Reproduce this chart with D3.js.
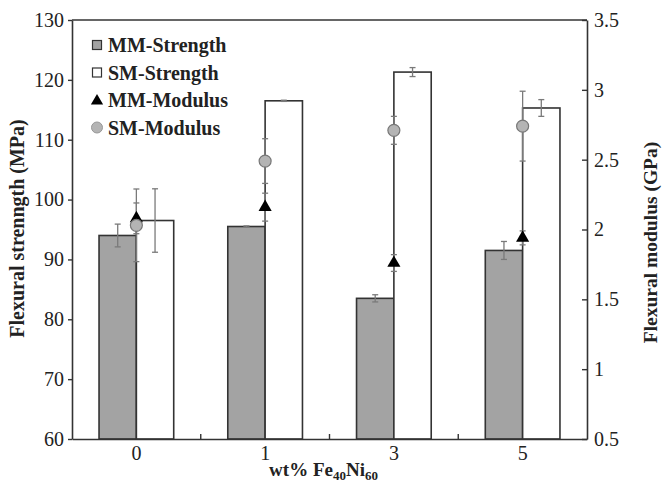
<!DOCTYPE html>
<html>
<head>
<meta charset="utf-8">
<script src="https://cdn.jsdelivr.net/npm/d3@7"></script>
<style>
  body { margin: 0; background: #fff; }
  text { font-family: "Liberation Serif", "Times New Roman", serif; fill: #222; }
</style>
</head>
<body>
<div id="vis"></div>
<script>
// data
var categories = ['0', '1', '3', '5'];
var mmStrength = [94.0, 95.5, 83.5, 91.5];
var mmStrengthErr = [1.9, 0.1, 0.6, 1.5];
var smStrength = [96.5, 116.5, 121.3, 115.3];
var smStrengthErr = [5.3, 0.1, 0.75, 1.4];
var mmModulus = [2.08, 2.16, 1.76, 1.94];
var mmModulusErr = [0.11, 0.1, 0.06, 0.05];
var smModulus = [2.03, 2.49, 2.71, 2.74];
var smModulusErr = [0.26, 0.16, 0.1, 0.25];
var leftTicks = [60, 70, 80, 90, 100, 110, 120, 130];
var rightTicks = [0.5, 1, 1.5, 2, 2.5, 3, 3.5];

var W = 662, H = 484;
var margin = {left: 72, right: 75, top: 20, bottom: 45};
var width = W - margin.left - margin.right;
var height = H - margin.top - margin.bottom;
var axisColor = '#333';

var svg = d3.select('#vis')
    .append('svg')
        .attr('width', W)
        .attr('height', H)
    .append('g')
        .attr('transform', 'translate(' + margin.left + ',' + margin.top + ')');

var x = d3.scaleBand().domain(categories).range([0, width]);
var y = d3.scaleLinear().domain([60, 130]).range([height, 0]);
var y2 = d3.scaleLinear().domain([0.5, 3.5]).range([height, 0]);
var barW = x.bandwidth() * 0.29;
var cx = d => x(d) + x.bandwidth() / 2;

// bars
svg.append('g').selectAll('rect')
    .data(categories)
    .enter()
    .append('rect')
        .attr('x', d => cx(d) - barW)
        .attr('y', (d, i) => y(mmStrength[i]))
        .attr('width', barW)
        .attr('height', (d, i) => height - y(mmStrength[i]))
        .style('fill', '#a3a3a3')
        .style('stroke', axisColor)
        .style('stroke-width', 1.6);

svg.append('g').selectAll('rect')
    .data(categories)
    .enter()
    .append('rect')
        .attr('x', d => cx(d))
        .attr('y', (d, i) => y(smStrength[i]))
        .attr('width', barW)
        .attr('height', (d, i) => height - y(smStrength[i]))
        .style('fill', '#fff')
        .style('stroke', axisColor)
        .style('stroke-width', 1.6);

// error bars
var errColor = '#7a7a7a';
var errBar = (xs, vals, errs, scale) => {
    var g = svg.append('g').style('stroke', errColor).style('stroke-width', 1.3);
    categories.forEach((c, i) => {
        var px = xs(c), lo = scale(vals[i] - errs[i]), hi = scale(vals[i] + errs[i]);
        g.append('line').attr('x1', px).attr('x2', px).attr('y1', lo).attr('y2', hi);
        g.append('line').attr('x1', px - 3).attr('x2', px + 3).attr('y1', lo).attr('y2', lo);
        g.append('line').attr('x1', px - 3).attr('x2', px + 3).attr('y1', hi).attr('y2', hi);
    });
};
errBar(d => cx(d) - barW / 2, mmStrength, mmStrengthErr, y);
errBar(d => cx(d) + barW / 2, smStrength, smStrengthErr, y);
errBar(cx, smModulus, smModulusErr, y2);
errBar(cx, mmModulus, mmModulusErr, y2);

// modulus markers
svg.append('g').selectAll('path')
    .data(categories)
    .enter()
    .append('path')
        .attr('d', d3.symbol().type(d3.symbolTriangle).size(75))
        .attr('transform', (d, i) => 'translate(' + cx(d) + ',' + y2(mmModulus[i]) + ')')
        .style('fill', '#000');

svg.append('g').selectAll('circle')
    .data(categories)
    .enter()
    .append('circle')
        .attr('cx', d => cx(d))
        .attr('cy', (d, i) => y2(smModulus[i]))
        .attr('r', 6)
        .style('fill', '#b4b4b4')
        .style('stroke', '#777')
        .style('stroke-width', 1.2);

// axes
var styleAxis = g => {
    g.selectAll('.domain').style('stroke', axisColor).style('stroke-width', 1.6);
    g.selectAll('.tick line').style('stroke', axisColor).style('stroke-width', 1.4);
    g.selectAll('.tick text').style('font-family', '"Liberation Serif", serif')
        .style('font-size', '20px').style('fill', '#222');
};

svg.append('g')
    .call(d3.axisLeft(y).tickValues(leftTicks).tickSize(4).tickSizeOuter(0).tickPadding(4))
    .call(styleAxis);

svg.append('g')
    .attr('transform', 'translate(' + width + ',0)')
    .call(d3.axisRight(y2).tickValues(rightTicks).tickSize(-5).tickSizeOuter(0).tickPadding(7)
        .tickFormat(d => String(d)))
    .call(styleAxis);

svg.append('g')
    .attr('transform', 'translate(0,' + height + ')')
    .call(d3.axisBottom(x).tickSize(0).tickPadding(7))
    .call(styleAxis);

// ticks between categories on the x axis
svg.append('g').selectAll('line')
    .data(categories.slice(1))
    .enter()
    .append('line')
        .attr('x1', d => x(d)).attr('x2', d => x(d))
        .attr('y1', height).attr('y2', height - 5)
        .style('stroke', axisColor).style('stroke-width', 1.4);

// top frame
svg.append('line')
    .attr('x1', 0).attr('x2', width).attr('y1', 0).attr('y2', 0)
    .style('stroke', axisColor).style('stroke-width', 1.6);

// axis titles
svg.append('text')
    .attr('transform', 'translate(' + (-48) + ',' + (height / 2 - 1) + ') rotate(-90)')
    .attr('text-anchor', 'middle')
    .style('font-size', '20px').style('font-weight', 'bold')
    .text('Flexural strenngth (MPa)');

svg.append('text')
    .attr('transform', 'translate(' + (width + 70) + ',' + (height / 2 + 13) + ') rotate(-90)')
    .attr('text-anchor', 'middle')
    .style('font-size', '19.5px').style('font-weight', 'bold')
    .text('Flexural modulus (GPa)');

var xt = svg.append('text')
    .attr('x', width / 2 - 6)
    .attr('y', height + 37)
    .attr('text-anchor', 'middle')
    .style('font-size', '19px').style('font-weight', 'bold');
xt.append('tspan').text('wt% Fe');
xt.append('tspan').attr('dy', 4).style('font-size', '13px').text('40');
xt.append('tspan').attr('dy', -4).text('Ni');
xt.append('tspan').attr('dy', 4).style('font-size', '13px').text('60');

// legend
var legendItems = ['MM-Strength', 'SM-Strength', 'MM-Modulus', 'SM-Modulus'];
var lg = svg.append('g').attr('transform', 'translate(25,25)');
legendItems.forEach((name, i) => {
    var row = lg.append('g').attr('transform', 'translate(0,' + (i * 27.5) + ')');
    if (i === 0 || i === 1) {
        row.append('rect').attr('x', -4.5).attr('y', -4.5).attr('width', 9).attr('height', 9)
            .style('fill', i === 0 ? '#a3a3a3' : '#fff')
            .style('stroke', axisColor).style('stroke-width', 1.2);
    } else if (i === 2) {
        row.append('path').attr('d', d3.symbol().type(d3.symbolTriangle).size(65))
            .attr('transform', 'translate(0,1)').style('fill', '#000');
    } else {
        row.append('circle').attr('r', 5.5).style('fill', '#b4b4b4')
            .style('stroke', '#999').style('stroke-width', 1);
    }
    row.append('text')
        .attr('x', 11).attr('y', 0).attr('dy', '0.35em')
        .style('font-size', '20px').style('font-weight', 'bold')
        .text(name);
});
</script>
</body>
</html>
